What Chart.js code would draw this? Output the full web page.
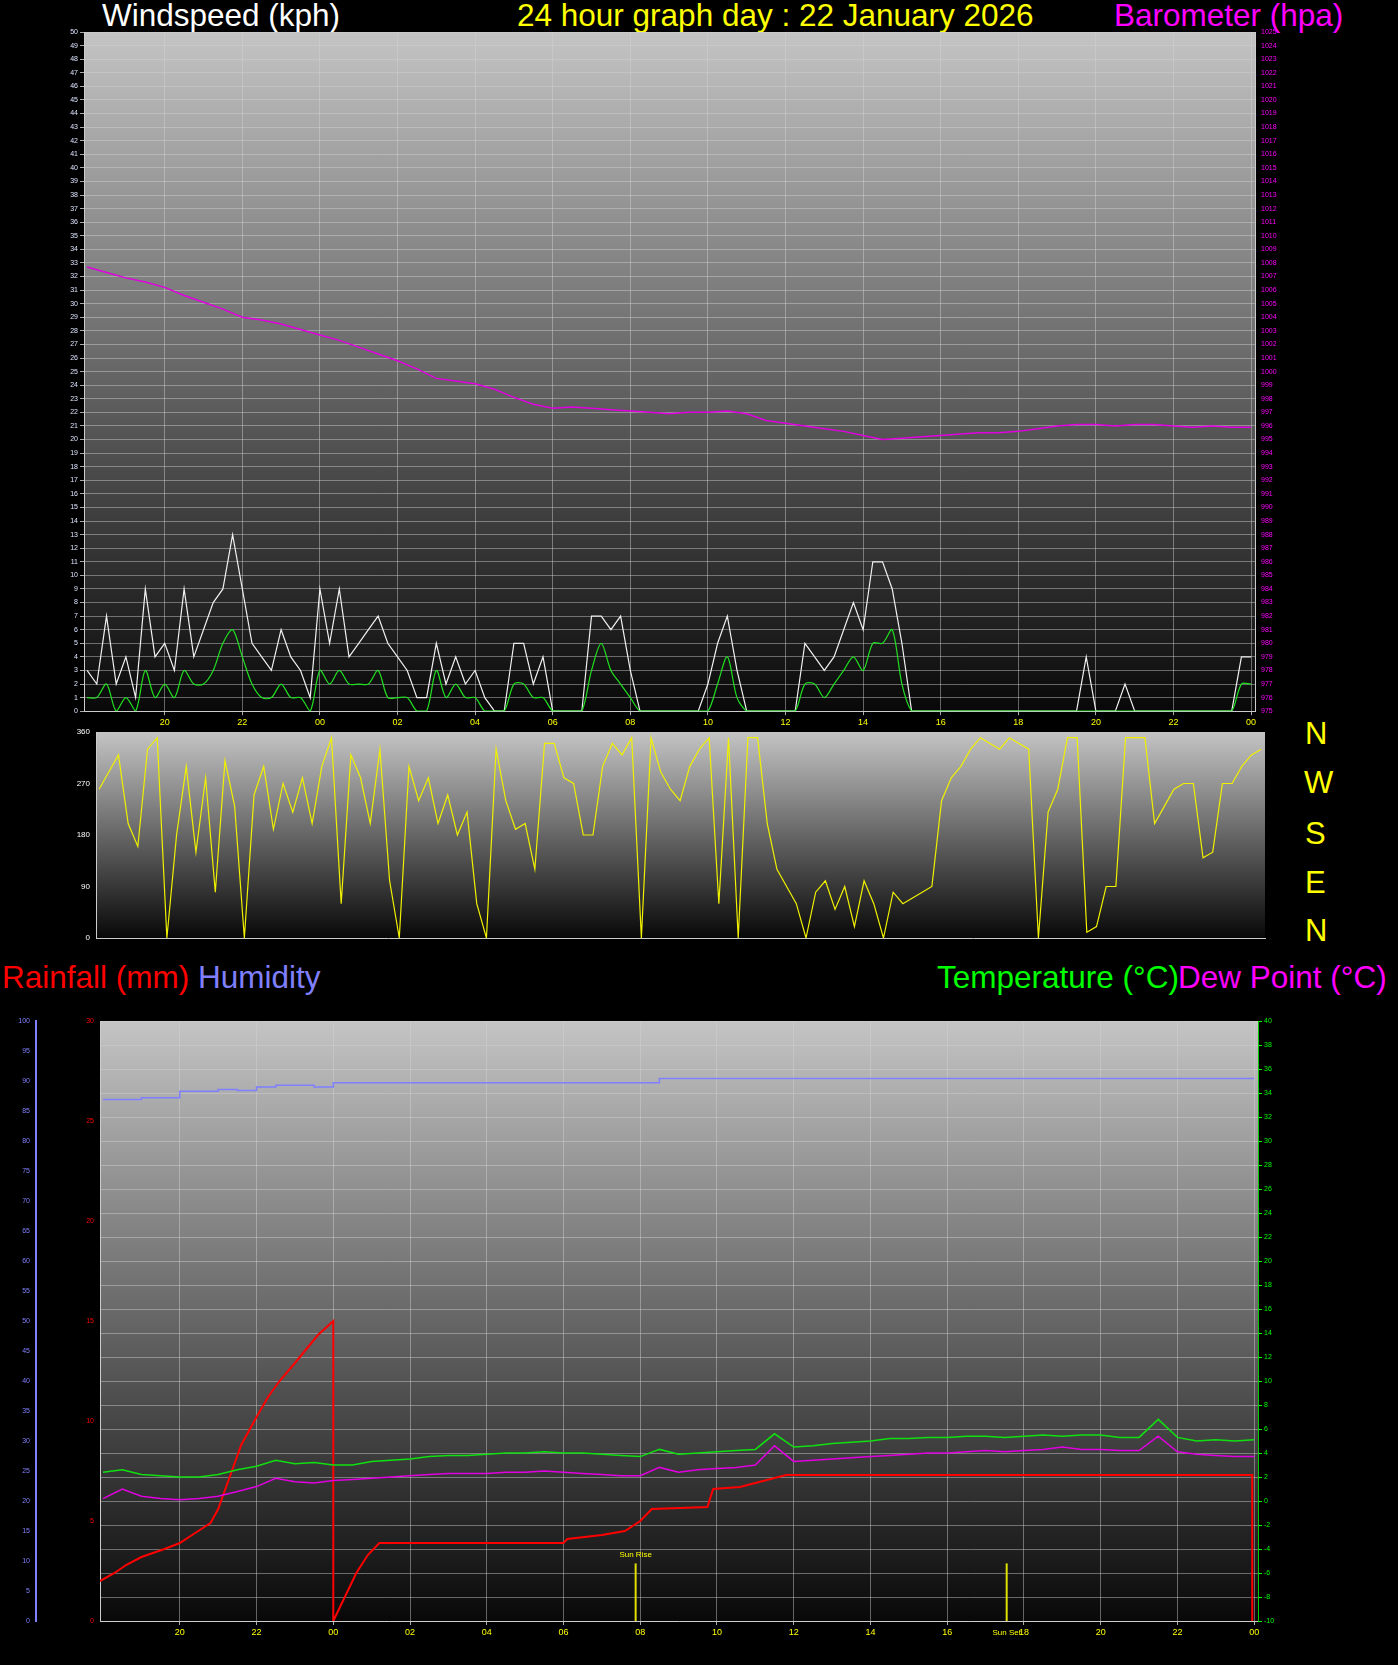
<!DOCTYPE html>
<html><head><meta charset="utf-8">
<script src="https://cdn.jsdelivr.net/npm/chart.js@4"></script>
<style>
body{margin:0;background:#000;width:1398px;height:1665px;overflow:hidden;font-family:"Liberation Sans",Arial,sans-serif}
.t{position:absolute;font-size:31.5px;white-space:nowrap;line-height:1}
canvas{position:absolute;left:0}
</style></head><body>
<div class="t" style="left:102px;top:0px;color:#fff">Windspeed (kph)</div>
<div class="t" style="left:517px;top:0px;color:#ff0">24 hour graph day : 22 January 2026</div>
<div class="t" style="left:1114px;top:0px;color:#f0f">Barometer (hpa)</div>
<div class="t" style="left:1305px;top:718px;color:#ff0;font-size:31px">N</div>
<div class="t" style="left:1304px;top:767px;color:#ff0;font-size:31px">W</div>
<div class="t" style="left:1305px;top:818px;color:#ff0;font-size:31px">S</div>
<div class="t" style="left:1305px;top:867px;color:#ff0;font-size:31px">E</div>
<div class="t" style="left:1305px;top:915px;color:#ff0;font-size:31px">N</div>
<div class="t" style="left:2px;top:962px;color:#f00">Rainfall (mm)</div>
<div class="t" style="left:198px;top:962px;color:#8080ff">Humidity</div>
<div class="t" style="left:937px;top:962px;color:#0f0">Temperature (°C)</div>
<div class="t" style="left:1178px;top:962px;color:#f0f">Dew Point (°C)</div>
<canvas id="c1" width="1398" height="730" style="top:0"></canvas>
<canvas id="c2" width="1398" height="950" style="top:0;height:950px"></canvas>
<canvas id="c3" width="1398" height="1665" style="top:0"></canvas>
<script>
const hourTicks=[20,22,24,26,28,30,32,34,36,38,40,42,44,46,48];
// 15-minute wind samples from 18:00 (previous day) to 00:00
const windGust=[3,2,7,2,4,1,9,4, 5,3,9,4,6,8,9,13, 9,5,4,3,6,4,3,1, 9,5,9,4,5,6,7,5, 4,3,1,1,5,2,4,2, 3,1,0,0,5,5,2,4, 0,0,0,0,7,7,6,7, 3,0,0,0,0,0,0,0, 2,5,7,3,0,0,0,0, 0,0,5,4,3,4,6,8, 6,11,11,9,5,0,0,0, 0,0,0,0,0,0,0,0, 0,0,0,0,0,0,0,4, 0,0,0,2,0,0,0,0, 0,0,0,0,0,0,0,4, 4];
const windAvg=[1,1,2,0,1,0,3,1, 2,1,3,2,2,3,5,6, 4,2,1,1,2,1,1,0, 3,2,3,2,2,2,3,1, 1,1,0,0,3,1,2,1, 1,0,0,0,2,2,1,1, 0,0,0,0,3,5,3,2, 1,0,0,0,0,0,0,0, 0,2,4,1,0,0,0,0, 0,0,2,2,1,2,3,4, 3,5,5,6,2,0,0,0, 0,0,0,0,0,0,0,0, 0,0,0,0,0,0,0,0, 0,0,0,0,0,0,0,0, 0,0,0,0,0,0,0,2, 2];
const windDir=[260,290,320,200,160,330,350,0, 180,300,150,280,80,310,230,0, 250,300,190,270,220,280,200,300, 350,60,320,280,200,330,100,0, 300,240,280,200,250,180,220,60, 0,330,240,190,200,120,340,340, 280,270,180,180,300,340,320,350, 0,350,290,260,240,300,330,350, 60,350,0,350,350,200,120,90, 60,0,80,100,50,90,20,100, 60,0,80,60,70,80,90,240, 280,300,330,350,340,330,350,340, 330,0,220,260,350,350,10,20, 90,90,350,350,350,200,230,260, 270,270,140,150,270,270,300,320, 330];
// 30-minute samples from 18:00 to 00:00
const barometer=[1007.7,1007.3,1006.9,1006.6,1006.2,1005.6,1005.1,1004.6,1004.0,1003.8,1003.5,1003.1,1002.7,1002.3,1001.8,1001.3,1000.8,1000.2,999.5,999.3,999.1,998.7,998.1,997.6,997.3,997.4,997.3,997.2,997.1,997.0,996.9,997.0,997.0,997.1,996.9,996.4,996.2,996.0,995.8,995.6,995.3,995.0,995.1,995.2,995.3,995.4,995.5,995.5,995.6,995.8,996.0,996.1,996.1,996.0,996.1,996.1,996.0,995.9,996.0,995.9,995.9];
const temperature=[2.4,2.6,2.2,2.1,2.0,2.0,2.2,2.6,2.9,3.4,3.1,3.2,3.0,3.0,3.3,3.4,3.5,3.7,3.8,3.8,3.9,4.0,4.0,4.1,4.0,4.0,3.9,3.8,3.7,4.3,3.9,4.0,4.1,4.2,4.3,5.6,4.5,4.6,4.8,4.9,5.0,5.2,5.2,5.3,5.3,5.4,5.4,5.3,5.4,5.5,5.4,5.5,5.5,5.3,5.3,6.8,5.3,5.0,5.1,5.0,5.1];
const dewPoint=[0.2,1.0,0.4,0.2,0.1,0.2,0.4,0.8,1.2,1.9,1.6,1.5,1.7,1.8,1.9,2.0,2.1,2.2,2.3,2.3,2.3,2.4,2.4,2.5,2.4,2.3,2.2,2.1,2.1,2.8,2.4,2.6,2.7,2.8,3.0,4.6,3.3,3.4,3.5,3.6,3.7,3.8,3.9,4.0,4.0,4.1,4.2,4.1,4.2,4.3,4.5,4.3,4.3,4.2,4.2,5.4,4.1,3.9,3.8,3.7,3.7];
const humidity=[86.9,86.9,87.2,87.2,88.3,88.3,88.6,88.4,89.0,89.3,89.3,89.0,89.7,89.7,89.7,89.7,89.7,89.7,89.7,89.7,89.7,89.7,89.7,89.7,89.7,89.7,89.7,89.7,89.7,90.4,90.4,90.4,90.4,90.4,90.4,90.4,90.4,90.4,90.4,90.4,90.4,90.4,90.4,90.4,90.4,90.4,90.4,90.4,90.4,90.4,90.4,90.4,90.4,90.4,90.4,90.4,90.4,90.4,90.4,90.4,90.4];
const rainHours=[17.92,18.3,18.6,19.0,19.3,19.6,20.0,20.4,20.8,21.0,21.3,21.6,22.0,22.3,22.6,23.0,23.3,23.6,24.0,24.0,24.3,24.6,24.9,25.2,30.0,30.1,31.0,31.6,32.0,32.3,33.75,33.9,34.6,35.8,47.95,47.95];
const rainMm=[2.0,2.4,2.8,3.2,3.4,3.6,3.9,4.4,4.9,5.6,7.2,8.8,10.2,11.2,12.0,12.9,13.6,14.3,15.0,0,1.2,2.4,3.3,3.9,3.9,4.1,4.3,4.5,5.0,5.6,5.7,6.6,6.7,7.3,7.3,0];
const sunRise=31.88, sunSet=41.55;

const q=windGust.map((_,i)=>18+i*0.25);
const h=barometer.map((_,i)=>18+i*0.5);
const pts=(xs,ys)=>ys.map((v,i)=>({x:xs[i],y:v}));
const F='"Liberation Sans",Arial,sans-serif';
const bg={id:'bg',beforeDraw(c){const a=c.chartArea,x=c.ctx;const g=x.createLinearGradient(0,a.top,0,a.bottom);g.addColorStop(0,'#c4c4c4');g.addColorStop(1,'#080808');x.save();x.fillStyle=g;x.fillRect(a.left,a.top,a.right-a.left,a.bottom-a.top);x.restore();}};
const grid={color:'rgba(210,210,210,0.45)',borderDash:[1,2],lineWidth:1};
const xAxis=(show)=>({type:'linear',min:17.92,max:48.1,afterBuildTicks:s=>{s.ticks=hourTicks.map(v=>({value:v}))},
 ticks:{display:show,color:'#ff0',font:{family:F,size:9},padding:2,callback:v=>String(v%24).padStart(2,'0')},
 grid:{...grid,tickLength:4,tickColor:'#aaa'},border:{color:'#ccc'}});
const width=w=>(s=>{s.width=w});
const plain=v=>String(v);
Chart.defaults.animation=false;Chart.defaults.devicePixelRatio=1;Chart.defaults.responsive=false;
const noLeg={legend:{display:false},tooltip:{enabled:false}};

new Chart(document.getElementById('c1'),{type:'line',plugins:[bg],data:{datasets:[
 {data:pts(h,barometer),yAxisID:'yb',borderColor:'#e000e0',borderWidth:1.5,pointRadius:0},
 {data:pts(q,windAvg),yAxisID:'y',borderColor:'#20e020',borderWidth:1.2,pointRadius:0,tension:0.3},
 {data:pts(q,windGust),yAxisID:'y',borderColor:'#f0f0f0',borderWidth:1.2,pointRadius:0}]},
 options:{layout:{padding:{top:32,left:0,right:0,bottom:0}},plugins:noLeg,scales:{
  x:xAxis(true),
  y:{position:'left',min:0,max:50,afterFit:width(84),ticks:{stepSize:1,color:'#dde4ff',font:{family:F,size:7},padding:2,autoSkip:false},grid:{...grid,tickColor:'#aaa',tickLength:4},border:{color:'#ccc'}},
  yb:{position:'right',min:975,max:1025,afterFit:width(143),ticks:{stepSize:1,color:'#f0f',font:{family:F,size:7},padding:2,autoSkip:false,callback:plain},grid:{display:false,tickColor:'#f0f',tickLength:4,drawOnChartArea:false},border:{color:'#ccc'}}}}});

new Chart(document.getElementById('c2'),{type:'line',plugins:[bg],data:{datasets:[
 {data:pts(q,windDir),borderColor:'#f0f000',borderWidth:1.2,pointRadius:0,stepped:false}]},
 options:{layout:{padding:{top:732,left:0,right:133,bottom:0}},plugins:noLeg,scales:{
  x:{...xAxis(false),grid:{display:false},afterFit:s=>{s.height=12}},
  y:{min:0,max:360,afterFit:width(96),afterBuildTicks:s=>{s.ticks=[0,90,180,270,360].map(v=>({value:v}))},ticks:{color:'#fff',font:{family:F,size:8},padding:2},grid:{display:false,drawOnChartArea:false,tickLength:4,tickColor:'#ccc'},border:{color:'#ccc'}}}}});

const sun={id:'sun',afterDatasetsDraw(c){const x=c.scales.x,x2=c.ctx,yt=c.scales.yt;x2.save();x2.fillStyle='#ff0';x2.font='8px '+F;x2.textAlign='center';
 x2.fillText('Sun Rise',x.getPixelForValue(sunRise),yt.getPixelForValue(-4.7));x2.fillText('Sun Set',x.getPixelForValue(sunSet),c.chartArea.bottom+14);x2.restore();}};
new Chart(document.getElementById('c3'),{type:'line',plugins:[bg,sun],data:{datasets:[
 {data:[{x:sunRise,y:-10},{x:sunRise,y:-5.2}],yAxisID:'yt',borderColor:'#e0e000',borderWidth:2,pointRadius:0},
 {data:[{x:sunSet,y:-10},{x:sunSet,y:-5.2}],yAxisID:'yt',borderColor:'#e0e000',borderWidth:2,pointRadius:0},
 {data:pts(h,humidity),yAxisID:'yh',borderColor:'#7f7fff',borderWidth:1.5,pointRadius:0,stepped:true},
 {data:pts(h,dewPoint),yAxisID:'yt',borderColor:'#e000e0',borderWidth:1.5,pointRadius:0},
 {data:pts(h,temperature),yAxisID:'yt',borderColor:'#10e010',borderWidth:1.5,pointRadius:0},
 {data:pts(rainHours,rainMm),yAxisID:'yr',borderColor:'#ff0000',borderWidth:2,pointRadius:0}]},
 options:{layout:{padding:{top:1021,left:0,right:0,bottom:0}},plugins:noLeg,scales:{
  x:{...xAxis(true),afterFit:s=>{s.height=44}},
  yh:{position:'left',weight:2,min:0,max:100,afterFit:width(36),ticks:{stepSize:5,color:'#8080ff',font:{family:F,size:7},padding:2},grid:{display:false,drawOnChartArea:false,tickColor:'#8080ff',tickLength:4},border:{color:'#8080ff',width:2}},
  yr:{position:'left',weight:1,min:0,max:30,afterFit:width(64),ticks:{stepSize:5,color:'#f00',font:{family:F,size:7},padding:2},grid:{display:false,drawOnChartArea:false,tickColor:'#f00',tickLength:4},border:{color:'#ccc'}},
  yt:{position:'right',min:-10,max:40,afterFit:width(140),ticks:{stepSize:2,color:'#0f0',font:{family:F,size:7},padding:2,autoSkip:false},grid:{...grid,tickColor:'#0f0',tickLength:4},border:{color:'#0c0'}}}}});
</script></body></html>
